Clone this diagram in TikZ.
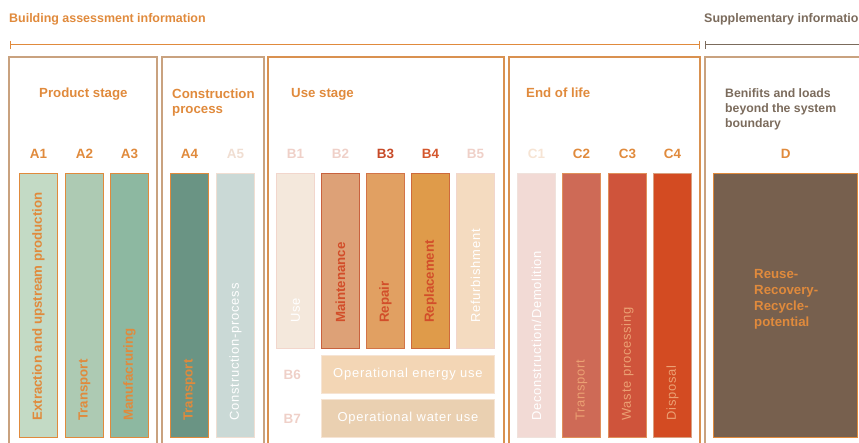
\documentclass[tikz,border=0pt]{standalone}
\usepackage{fontspec}
\setmainfont{Liberation Sans}
\newfontfamily\thinfont[LetterSpace=6]{Liberation Sans}
\usetikzlibrary{positioning,arrows.meta}

% main palette
\definecolor{lcaorange}{HTML}{E08A3C}
\definecolor{lcatan}{HTML}{C9A27F}
\definecolor{lcagrey}{HTML}{7B6B5C}
\definecolor{lcared}{HTML}{D24E2A}
\definecolor{lcapale}{HTML}{EFD0C8}
\definecolor{lcapeach}{HTML}{EBA073}
% module fills
\definecolor{fillA1}{HTML}{C3DAC5}
\definecolor{fillA2}{HTML}{ADCAB3}
\definecolor{fillA3}{HTML}{8DB8A1}
\definecolor{fillA4}{HTML}{6A9484}
\definecolor{fillA5}{HTML}{CAD9D6}
\definecolor{fillB1}{HTML}{F4E8DC}
\definecolor{fillB2}{HTML}{DDA177}
\definecolor{fillB3}{HTML}{E1A062}
\definecolor{fillB4}{HTML}{DF9B4A}
\definecolor{fillB5}{HTML}{F4DBC0}
\definecolor{fillB6}{HTML}{F3D6B5}
\definecolor{fillB7}{HTML}{EAD0B1}
\definecolor{fillC1}{HTML}{F2DAD5}
\definecolor{fillC2}{HTML}{CE6A56}
\definecolor{fillC3}{HTML}{CF543B}
\definecolor{fillC4}{HTML}{D34B22}
\definecolor{fillD}{HTML}{77604E}
% module borders
\definecolor{lineA5}{HTML}{F0DED2}
\definecolor{lineB1}{HTML}{F2D6CC}
\definecolor{lineB2}{HTML}{C8623E}
\definecolor{lineB3}{HTML}{D37448}
\definecolor{lineB4}{HTML}{CE6A3C}
\definecolor{lineB6}{HTML}{F6E4D4}
\definecolor{lineC1}{HTML}{F0E2DC}
\definecolor{lineC}{HTML}{E0905A}
\definecolor{lineC4}{HTML}{D9A080}

\begin{document}
\begin{tikzpicture}[x=1bp,y=-1bp,
    stagebox/.style={draw=lcatan, line width=1.6bp},
    bar/.style={draw=#1, line width=0.8bp, anchor=north west, inner sep=0pt,
        minimum width=38bp, minimum height=264bp},
    boldtxt/.style={rotate=90, anchor=west, inner sep=0pt,
        font=\bfseries\fontsize{13.3}{15}\selectfont},
    thintxt/.style={rotate=90, anchor=west, inner sep=0pt,
        font=\thinfont\fontsize{13}{15}\selectfont},
    module/.style={inner sep=0pt, font=\bfseries\fontsize{13.5}{15}\selectfont},
    title/.style={inner sep=0pt, anchor=base west, text=lcaorange,
        font=\bfseries\fontsize{13.3}{15}\selectfont, align=left},
    header/.style={inner sep=0pt, anchor=base west,
        font=\bfseries\fontsize{12.5}{14}\selectfont}]
    \useasboundingbox (0,0) rectangle (859,443);
    \clip (0,0) rectangle (859,443);

    % headers and scope lines
    \node[header, text=lcaorange] (bai) at (9,22.5) {Building assessment information};
    \node[header, text=lcagrey] (supp) at (704,22.5) {Supplementary information};
    \coordinate (bai-start) at (10,45);
    \coordinate (bai-end) at (700,45);
    \coordinate (supp-start) at (705,45);
    \coordinate (supp-end) at (870,45);
    \draw[lcaorange, line width=1bp, {Bar[width=8bp]}-{Bar[width=8bp]}] (bai-start) -- (bai-end);
    \draw[lcagrey, line width=1bp, {Bar[width=8bp]}-] (supp-start) -- (supp-end);

    % stage frames
    \draw[stagebox] (9,57) rectangle (157,470);
    \draw[stagebox] (162,57) rectangle (264,470);
    \draw[stagebox, draw=lcaorange!70!lcatan] (268,57) rectangle (504,470);
    \draw[stagebox, draw=lcaorange!70!lcatan] (509,57) rectangle (700,470);
    \draw[stagebox] (705,57) rectangle (880,470);

    \node[title] (product) at (39,98) {Product stage};
    \node[title, anchor=north west] (construction) at (172,88.5) {Construction\\process};
    \node[title] (use) at (291,98) {Use stage};
    \node[title] (eol) at (526,98) {End of life};
    \node[title, anchor=north west, text=lcagrey, font=\bfseries\fontsize{12.3}{15}\selectfont]
        (beyond) at (725,88.5) {Benifits and loads\\beyond the system\\boundary};

    % full height modules
    \foreach \n/\x/\bc/\tc/\lc/\f/\txt in {
        A1/19/lcaorange/lcaorange/lcaorange/boldtxt/Extraction and upstream production,
        A2/65/lcaorange/lcaorange/lcaorange/boldtxt/Transport,
        A3/110/lcaorange/lcaorange/lcaorange/boldtxt/Manufacruring,
        A4/170/lcaorange/lcaorange/lcaorange/boldtxt/Transport,
        A5/216/lineA5/white/lineA5/thintxt/Construction-process,
        C1/517/lineC1/white/lineB6/thintxt/{Deconstruction/Demolition},
        C2/562/lineC/lcapeach/lcaorange/thintxt/Transport,
        C3/608/lineC/lcapeach/lcaorange/thintxt/Waste processing,
        C4/653/lineC4/lcapeach/lcaorange/thintxt/Disposal}
    {
        \node[bar=\bc, fill=fill\n] (\n) at (\x,173) {};
        \node[\f, text=\tc] (\n-txt) at ([yshift=17bp]\n.south) {\txt};
        \node[module, text=\lc, above=14bp of \n] (\n-lbl) {\n};
    }

    % use stage modules
    \foreach \n/\x/\bc/\tc/\lc/\f/\txt in {
        B1/276/lineB1/white/lcapale/thintxt/Use,
        B2/321/lineB2/lcared/lcapale/boldtxt/Maintenance,
        B3/366/lineB3/lcared/lcared!95!black/boldtxt/Repair,
        B4/411/lineB4/lcared/lcared!85!lcaorange/boldtxt/Replacement,
        B5/456/lineB1/white/lcapale/thintxt/Refurbishment}
    {
        \node[bar=\bc, fill=fill\n, minimum height=175bp] (\n) at (\x,173) {};
        \node[\f, text=\tc] (\n-txt) at ([yshift=26bp]\n.south) {\txt};
        \node[module, text=\lc, above=14bp of \n] (\n-lbl) {\n};
    }

    \foreach \n/\y/\txt in {B6/355/Operational energy use, B7/399/Operational water use}
    {
        \node[bar=lineB6, fill=fill\n, minimum width=173bp, minimum height=38bp,
            text=white, font=\thinfont\fontsize{13}{15}\selectfont] (\n) at (321,\y) {\txt};
        \node[module, text=lcapale, left=20bp of \n] (\n-lbl) {\n};
    }

    % module D
    \node[bar=lcaorange, fill=fillD, minimum width=144bp, line width=1.2bp] (D) at (713,173) {};
    \node[module, text=lcaorange, above=14bp of D] (D-lbl) {D};
    \node[title, anchor=north west, align=left, font=\bfseries\fontsize{13.3}{16}\selectfont]
        (D-txt) at (754,269) {Reuse-\\Recovery-\\Recycle-\\potential};
\end{tikzpicture}
\end{document}
